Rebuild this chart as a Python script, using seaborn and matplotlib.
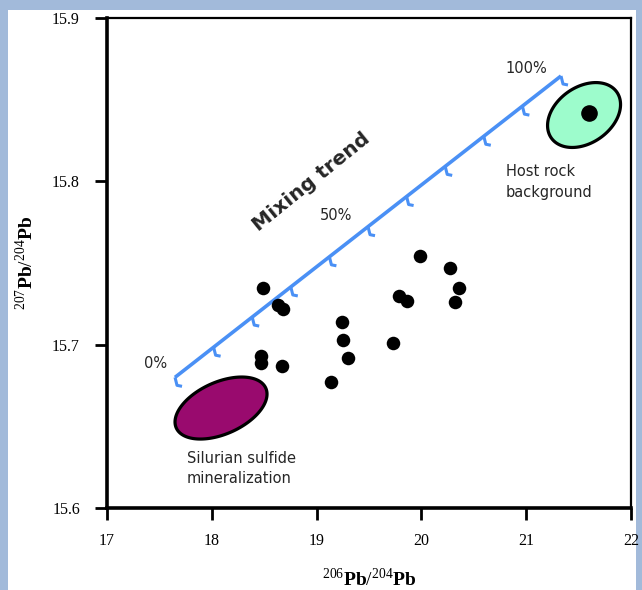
import numpy as np
import pandas as pd
import matplotlib
matplotlib.use('Agg')
import matplotlib.pyplot as plt
import seaborn as sns
from matplotlib.patches import Rectangle

# sample isotope ratios
pb206_204 = [18.49, 18.63, 18.68, 18.47, 18.47, 18.67, 19.24, 19.25, 19.30,
             19.14, 19.73, 19.79, 19.86, 19.99, 20.27, 20.36, 20.32]
pb207_204 = [15.735, 15.724, 15.722, 15.693, 15.689, 15.687, 15.714, 15.703, 15.692,
             15.677, 15.701, 15.730, 15.727, 15.754, 15.747, 15.735, 15.726]

# end members (centre x, centre y, semi-axes in px, tilt in deg)
silurian = (18.088, 15.6612, 49, 26, 24)
host_rock = (21.552, 15.8406, 40, 28, 35)
host_point = (21.60, 15.8417)

# mixing line, 0% -> 100%
mix_x = [17.649, 21.332]
mix_y = [15.680, 15.8645]
mix_pct = np.arange(0, 101, 10)

x_ticks = [17, 18, 19, 20, 21, 22]
y_ticks = [15.6, 15.7, 15.8, 15.9]

BLUE = '#4a90f5'
PURPLE = '#990a6e'
MINT = '#9dfccc'

sns.set_theme(style='ticks')
plt.rcParams['font.family'] = ['Liberation Serif', 'DejaVu Serif']
plt.rcParams['mathtext.fontset'] = 'custom'
plt.rcParams['mathtext.rm'] = 'Liberation Serif'
plt.rcParams['mathtext.bf'] = 'Liberation Serif:bold'

fig = plt.figure(figsize=(6.42, 5.90), dpi=100)
fig.patch.set_facecolor('#a2bada')
fig.patches.append(Rectangle((8 / 642, 0), 628 / 642, 580 / 590, transform=fig.transFigure,
                             facecolor='white', edgecolor='none', zorder=-5))
ax = fig.add_axes([107 / 642, 82 / 590, 524 / 642, 490 / 590])
ax.set_xlim(17, 22)
ax.set_ylim(15.6, 15.9)

# pixel -> data scale factors
px_x = 5 / 524
px_y = 0.3 / 490


def ellipse(c, fc):
    cx, cy, a, b, ang = c
    t = np.linspace(0, 2 * np.pi, 200)
    th = np.radians(ang)
    ex = cx + (a * np.cos(th) * np.cos(t) - b * np.sin(th) * np.sin(t)) * px_x
    ey = cy + (a * np.sin(th) * np.cos(t) + b * np.cos(th) * np.sin(t)) * px_y
    ax.fill(ex, ey, facecolor=fc, edgecolor='black', lw=2.3, zorder=3)


ellipse(silurian, PURPLE)
ellipse(host_rock, MINT)

# mixing trend with small hooks every 10 %
ax.plot(mix_x, mix_y, color=BLUE, lw=2.6, zorder=4, solid_capstyle='butt')
for p in mix_pct:
    f = p / 100
    tx = mix_x[0] + f * (mix_x[1] - mix_x[0])
    ty = mix_y[0] + f * (mix_y[1] - mix_y[0])
    ax.plot([tx, tx + 2 * px_x, tx + 7 * px_x], [ty, ty - 8 * px_y, ty - 9 * px_y],
            color=BLUE, lw=2.2, zorder=4, solid_capstyle='butt')

df = pd.DataFrame({'x': pb206_204, 'y': pb207_204})
sns.scatterplot(data=df, x='x', y='y', s=95, color='black', edgecolor='black',
                linewidth=0, ax=ax, zorder=5)
ax.scatter([host_point[0]], [host_point[1]], s=120, color='black', zorder=5)

sans = ['DejaVu Sans']
ax.text(17.468, 15.6882, '0%', family=sans, fontsize=10.5, ha='center', va='center')
ax.text(19.185, 15.7788, '50%', family=sans, fontsize=10.5, ha='center', va='center')
ax.text(20.998, 15.8688, '100%', family=sans, fontsize=10.5, ha='center', va='center')
ax.text(18.947, 15.7996, 'Mixing trend', family=sans, fontsize=14.5, fontweight='bold',
        rotation=39, ha='center', va='center', rotation_mode='anchor')
ax.text(20.807, 15.7996, 'Host rock\nbackground', family=sans, fontsize=10.5,
        ha='left', va='center', linespacing=1.45)
ax.text(17.763, 15.6242, 'Silurian sulfide\nmineralization', family=sans, fontsize=10.5,
        ha='left', va='center', linespacing=1.45)

ax.set_xticks(x_ticks)
ax.set_yticks(y_ticks)
ax.set_xticklabels([str(v) for v in x_ticks], fontsize=11.5)
ax.set_yticklabels([f'{v:.1f}' for v in y_ticks], fontsize=11.5)
ax.tick_params(axis='x', length=0, pad=18, labelcolor='black')
ax.tick_params(axis='y', length=0, pad=19.5, labelcolor='black')

# tick marks drawn by hand (12 px, outward)
tick_len = 12
for v in x_ticks:
    ax.plot([v, v], [0, -tick_len / 490], transform=ax.get_xaxis_transform(),
            color='black', lw=2, clip_on=False, solid_capstyle='butt', zorder=6)
for v in y_ticks:
    ax.plot([0, -tick_len / 524], [v, v], transform=ax.get_yaxis_transform(),
            color='black', lw=2, clip_on=False, solid_capstyle='butt', zorder=6)

ax.set_xlabel(r'$^{206}\mathbf{Pb}/^{204}\mathbf{Pb}$', fontsize=14, labelpad=13,
              color='black')
ax.set_ylabel(r'$^{207}\mathbf{Pb}/^{204}\mathbf{Pb}$', fontsize=14, labelpad=10.5,
              color='black')

for side in ['left', 'bottom']:
    ax.spines[side].set_linewidth(2.6)
for side in ['top', 'right']:
    ax.spines[side].set_linewidth(1.6)
for sp in ax.spines.values():
    sp.set_color('black')

fig.savefig('out.png', dpi=100, facecolor=fig.get_facecolor())
